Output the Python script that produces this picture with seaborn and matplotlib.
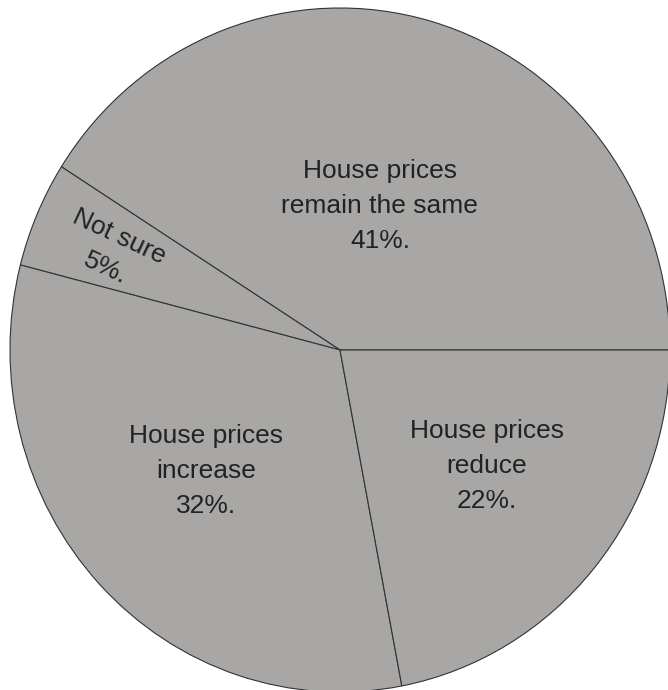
import matplotlib
matplotlib.use("Agg")
import matplotlib.pyplot as plt
import seaborn as sns

# Survey responses on expected house prices (percent)
categories = ["House prices\nremain the same", "Not sure", "House prices\nincrease", "House prices\nreduce"]
shares = [41, 5, 32, 22]

sns.set_theme(style="white")
plt.rcParams["font.family"] = ["Liberation Sans", "DejaVu Sans"]

fig = plt.figure(figsize=(6.68, 6.90), dpi=100)
ax = fig.add_axes([0, 0, 1, 1])

wedge_color = "#a8a7a5"
ax.pie(
    shares,
    startangle=0,
    counterclock=True,
    colors=[wedge_color] * len(shares),
    wedgeprops=dict(edgecolor="#333333", linewidth=0.8),
    radius=1.0,
    center=(0, 0),
)

# Label positions (data units) and rotations for each slice
label_pos = [(0.121, 0.421), (-0.690, 0.285), (-0.406, -0.354), (0.445, -0.339)]
label_rot = [0, -25, 0, 0]
for name, val, (x, y), rot in zip(categories, shares, label_pos, label_rot):
    ax.text(x, y, f"{name}\n{val}%.", ha="center", va="center",
            fontsize=19, color="#222222", rotation=rot,
            linespacing=1.56, rotation_mode="anchor")

ax.set_aspect("auto")
ax.set_xlim(-340 / 330, (668 - 340) / 330)
ax.set_ylim(-(690 - 350) / 342, 350 / 342)
ax.axis("off")

fig.savefig("out.png", dpi=100, facecolor="white")
